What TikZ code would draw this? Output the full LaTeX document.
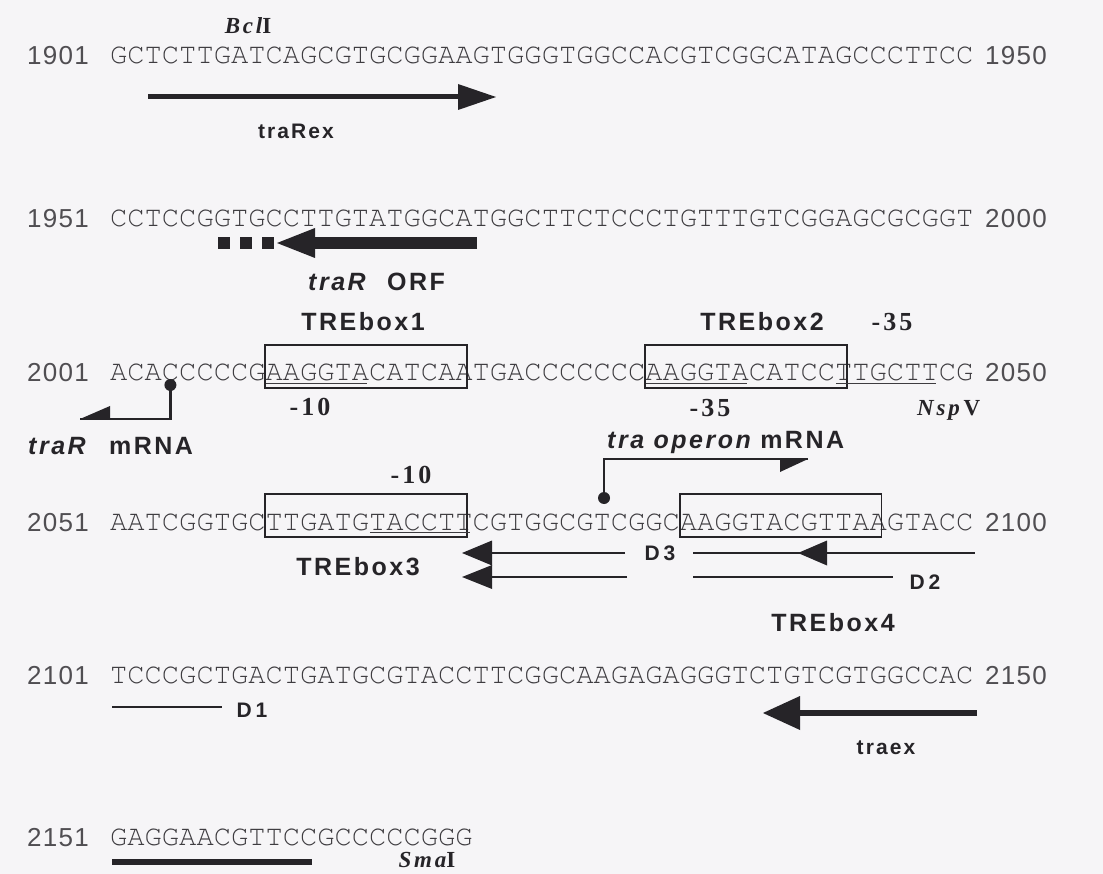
\documentclass[tikz,border=0pt]{standalone}
\usepackage{fontspec}
\newfontfamily\seqfont{TeX Gyre Cursor}
\newfontfamily\numfont[LetterSpace=5]{Liberation Sans}
\newfontfamily\lblfont[LetterSpace=10]{Liberation Sans}
\newfontfamily\sitefont[LetterSpace=12]{Liberation Serif}
\definecolor{paper}{RGB}{246,245,247}
\definecolor{ink}{RGB}{38,36,40}
\definecolor{seqgray}{RGB}{62,60,64}
\definecolor{numgray}{RGB}{80,78,82}
% sequence grid: first base at x0, one base = cw
\def\xo{110}
\def\cw{17.26}
\begin{document}
\begin{tikzpicture}[x=1pt,y=-1pt,
  seqline/.style={anchor=base west,inner sep=0pt,text=seqgray,font=\fontsize{28.77}{30}\seqfont},
  posnum/.style={anchor=base west,inner sep=0pt,text=numgray,font=\fontsize{26}{28}\numfont},
  lbl/.style={inner sep=0pt,text=ink,font=\fontsize{25}{27}\lblfont\bfseries},
  lblsmall/.style={inner sep=0pt,text=ink,font=\fontsize{21}{23}\lblfont\bfseries},
  dlbl/.style={inner sep=0pt,text=ink,font=\fontsize{21}{23}\lblfont\bfseries},
  sitelbl/.style={inner sep=0pt,text=ink,font=\fontsize{23}{25}\sitefont\bfseries},
  boxnum/.style={inner sep=0pt,text=ink,font=\fontsize{26}{28}\sitefont\bfseries},
  boxline/.style={draw=ink,line width=1.9pt},
  uline/.style={draw=seqgray,line width=1.3pt},
  mrnaline/.style={draw=ink,line width=2.2pt},
  dline/.style={draw=ink,line width=2.2pt},
  tipfill/.style={fill=ink},
  tssdot/.style={circle,fill=ink,inner sep=0pt,minimum size=12pt},
]
\useasboundingbox (0,0) rectangle (1103,874);
\fill[paper] (0,0) rectangle (1103,874);

% ---------------- 1901-1950 ----------------
\node[posnum] (p1901) at (27,65) {1901};
\node[seqline] (s1901) at (\xo,64) {GCTCTTGATCAGCGTGCGGAAGTGGGTGGCCACGTCGGCATAGCCCTTCC};
\node[posnum] (p1950) at (985,65) {1950};
\node[sitelbl] (bcl) at (248,26) {\itshape Bcl\upshape I};
\coordinate (rexA) at (148,97);
\coordinate (rexB) at (496,97);
\draw[draw=ink,line width=5pt,shorten >=36pt] (rexA) -- (rexB);
\fill[tipfill] (rexB) -- ++(-38,-13) -- ++(0,26) -- cycle;
\node[lblsmall] (rexlbl) at (296,131) {traRex};

% ---------------- 1951-2000 ----------------
\node[posnum] (p1951) at (27,228) {1951};
\node[seqline] (s1951) at (\xo,227) {CCTCCGGTGCCTTGTATGGCATGGCTTCTCCCTGTTTGTCGGAGCGCGGT};
\node[posnum] (p2000) at (985,228) {2000};
\coordinate (orfTip) at (277,243);
\coordinate (orfEnd) at (477,243);
\coordinate (orfDash) at (218,243);
\draw[draw=ink,line width=12.5pt,shorten >=36pt] (orfEnd) -- (orfTip);
\draw[draw=ink,line width=12.5pt,dash pattern=on 12pt off 10pt] (orfDash) -- (orfTip);
\fill[tipfill] (orfTip) -- ++(38,-15) -- ++(0,30) -- cycle;
\node[lbl,anchor=base west] (orflbl) at (308,291) {\itshape traR\upshape\hspace{12pt} ORF};
\node[lbl] (tre1) at (363,322) {TREbox1};
\node[lbl] (tre2) at (762,322) {TREbox2};
\node[boxnum] (m35a) at (892,322) {-35};

% ---------------- 2001-2050 ----------------
\node[posnum] (p2001) at (27,382) {2001};
\node[seqline] (s2001) at (\xo,381) {ACACCCCCGAAGGTACATCAATGACCCCCCCAAGGTACATCCTTGCTTCG};
\node[posnum] (p2050) at (985,382) {2050};
\draw[boxline] ({\xo+9*\cw},345) rectangle ({\xo+20.7*\cw},388);
\draw[boxline] ({\xo+31*\cw},345) rectangle ({\xo+42.7*\cw},388);
\draw[uline] ({\xo+9*\cw+1},383.5) -- ({\xo+15*\cw-2},383.5);
\draw[uline] ({\xo+31*\cw+1},383.5) -- ({\xo+37*\cw-2},383.5);
\draw[uline] ({\xo+42*\cw+1},383.5) -- ({\xo+48*\cw-2},383.5);
\node[boxnum] (m10a) at (310,407) {-10};
\node[boxnum] (m35b) at (710,408) {-35};
\node[sitelbl,anchor=base west] (nsp) at (917,416) {\itshape Nsp\upshape\,V};
% traR transcript start
\node[tssdot] (trRdot) at ({\xo+3.5*\cw},385) {};
\coordinate (trRtip) at (80,419);
\draw[mrnaline] (trRdot.center) |- (trRtip);
\fill[tipfill] (trRtip) -- ++(30,0) -- ++(0,-13) -- cycle;
\node[lbl,anchor=base west] (trRlbl) at (28,454) {\itshape traR\upshape\hspace{14pt} mRNA};
% tra operon transcript start
\node[lbl,anchor=base west] (oplbl) at (607,448) {\itshape tra operon\upshape\ mRNA};
\node[tssdot] (opdot) at (604,498) {};
\coordinate (optip) at (808,459);
\draw[mrnaline] (opdot.center) |- (optip);
\fill[tipfill] (optip) -- ++(-28,0) -- ++(0,13) -- cycle;

% ---------------- 2051-2100 ----------------
\node[boxnum] (m10b) at (411,475) {-10};
\node[posnum] (p2051) at (27,531) {2051};
\node[seqline] (s2051) at (\xo,530) {AATCGGTGCTTGATGTACCTTCGTGGCGTCGGCAAGGTACGTTAAGTACC};
\node[posnum] (p2100) at (985,531) {2100};
\draw[boxline] ({\xo+9*\cw},494) rectangle ({\xo+20.7*\cw},537);
\draw[boxline] ({\xo+33*\cw},494) rectangle ({\xo+44.7*\cw},537);
\draw[uline] ({\xo+15*\cw+1},532.5) -- ({\xo+21*\cw-2},532.5);
\node[lbl] (tre3) at (358,567) {TREbox3};
\node[lbl] (tre4) at (833,623) {TREbox4};
% deletion end points
\coordinate (d3a) at (462,553);
\coordinate (d3b) at (625,553);
\coordinate (d3c) at (693,553);
\coordinate (d3d) at (975,553);
\coordinate (d3tip) at (798,553);
\draw[dline,shorten >=20pt] (d3b) -- (d3a);
\fill[tipfill] (d3a) -- ++(30,-12.5) -- ++(0,25) -- cycle;
\draw[dline] (d3c) -- (d3d);
\fill[tipfill] (d3tip) -- ++(29,-12.5) -- ++(0,25) -- cycle;
\node[dlbl] (d3l) at (660,553) {D\hspace{4pt}3};
\coordinate (d2a) at (462,577);
\coordinate (d2b) at (627,577);
\coordinate (d2c) at (693,577);
\coordinate (d2d) at (893,577);
\draw[dline,shorten >=20pt] (d2b) -- (d2a);
\fill[tipfill] (d2a) -- ++(30,-12) -- ++(0,24) -- cycle;
\draw[dline] (d2c) -- (d2d);
\node[dlbl] (d2l) at (925,582) {D\hspace{4pt}2};

% ---------------- 2101-2150 ----------------
\node[posnum] (p2101) at (27,684) {2101};
\node[seqline] (s2101) at (\xo,683) {TCCCGCTGACTGATGCGTACCTTCGGCAAGAGAGGGTCTGTCGTGGCCAC};
\node[posnum] (p2150) at (985,684) {2150};
\coordinate (d1a) at (112,707);
\coordinate (d1b) at (222,707);
\draw[dline] (d1a) -- (d1b);
\node[dlbl] (d1l) at (252,710) {D\hspace{4pt}1};
\coordinate (trxTip) at (763,713);
\coordinate (trxEnd) at (977,713);
\draw[draw=ink,line width=6pt,shorten >=35pt] (trxEnd) -- (trxTip);
\fill[tipfill] (trxTip) -- ++(37,-17) -- ++(0,34) -- cycle;
\node[lblsmall] (trxlbl) at (886,748) {traex};

% ---------------- 2151- ----------------
\node[posnum] (p2151) at (27,846) {2151};
\node[seqline] (s2151) at (\xo,845) {GAGGAACGTTCCGCCCCCGGG};
\coordinate (smaA) at (112,862);
\coordinate (smaB) at (312,862);
\draw[draw=ink,line width=6pt] (smaA) -- (smaB);
\node[sitelbl] (sma) at (427,860) {\itshape Sma\upshape I};
\end{tikzpicture}
\end{document}
